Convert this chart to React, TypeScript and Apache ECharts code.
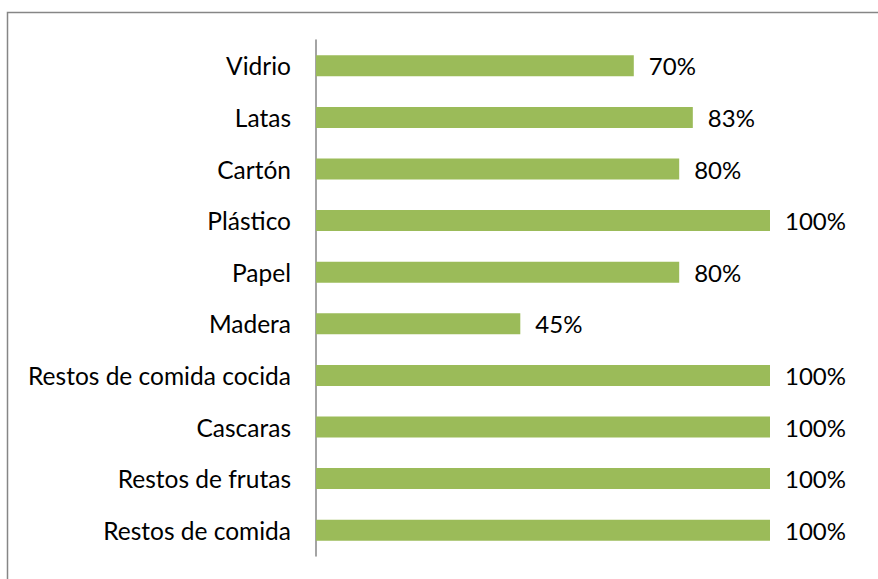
import React, { useEffect, useRef } from "react";
import * as echarts from "echarts";

const categories = [
  "Vidrio",
  "Latas",
  "Cartón",
  "Plástico",
  "Papel",
  "Madera",
  "Restos de comida cocida",
  "Cascaras",
  "Restos de frutas",
  "Restos de comida",
];
const values = [70, 83, 80, 100, 80, 45, 100, 100, 100, 100];

const FONT = "Lato, 'Open Sans', sans-serif";

export default function App() {
  const ref = useRef<HTMLDivElement>(null);
  useEffect(() => {
    if (!ref.current) return;
    const chart = echarts.init(ref.current, undefined, { renderer: "svg" });
    chart.setOption({
      animation: false,
      backgroundColor: "#ffffff",
      graphic: [
        {
          type: "rect",
          left: 5,
          top: 10,
          shape: { width: 900, height: 600 },
          style: { fill: "none", stroke: "#868686", lineWidth: 1.5 },
          silent: true,
        },
      ],
      grid: { left: 316, top: 40, width: 454, height: 516, containLabel: false },
      xAxis: {
        type: "value",
        min: 0,
        max: 100,
        show: false,
      },
      yAxis: {
        type: "category",
        data: categories,
        inverse: true,
        axisLine: { show: true, lineStyle: { color: "#868686", width: 1.5 } },
        axisTick: { show: false },
        axisLabel: {
          margin: 25,
          color: "#000000",
          fontSize: 24.5,
          fontFamily: FONT,
        },
      },
      series: [
        {
          type: "bar",
          data: values,
          barWidth: 21,
          itemStyle: { color: "#9BBB59" },
          label: {
            show: true,
            position: "right",
            distance: 15,
            formatter: "{c}%",
            color: "#000000",
            fontSize: 24,
            fontFamily: FONT,
          },
        },
      ],
    });
    return () => chart.dispose();
  }, []);
  return (
    <div
      ref={ref}
      style={{ position: "absolute", left: 0, top: 0, width: 878, height: 579 }}
    />
  );
}
